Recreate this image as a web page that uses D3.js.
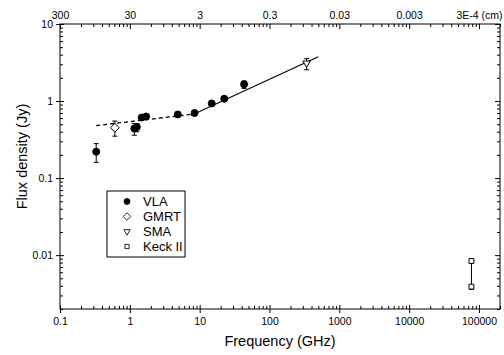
<!DOCTYPE html>
<html>
<head>
<meta charset="utf-8">
<script src="https://cdn.jsdelivr.net/npm/d3@7"></script>
<style>
  body { margin: 0; background: #fff; }
  text { font-family: "Liberation Sans", Arial, sans-serif; fill: #000; }
</style>
</head>
<body>
<svg id="chart" width="504" height="355"></svg>
<script>
// ticks
var freqTicks = [0.1, 1, 10, 100, 1000, 10000, 100000];
var freqLabels = ["0.1", "1", "10", "100", "1000", "10000", "100000"];
var waveLabels = ["300", "30", "3", "0.3", "0.03", "0.003", "3E-4 (cm)"];
var fluxTicks = [10, 1, 0.1, 0.01];
var fluxLabels = ["10", "1", "0.1", "0.01"];

// VLA (filled circles)
var vlaFreq = [0.33, 1.16, 1.26, 1.48, 1.71, 4.86, 8.46, 14.9, 22.5, 43.3];
var vlaFlux = [0.22, 0.44, 0.46, 0.61, 0.63, 0.67, 0.70, 0.93, 1.07, 1.65];
var vlaLo   = [0.16, 0.36, 0.40, 0.61, 0.63, 0.67, 0.70, 0.93, 1.07, 1.46];
var vlaHi   = [0.28, 0.51, 0.51, 0.61, 0.63, 0.67, 0.70, 0.93, 1.07, 1.82];
// GMRT (diamond)
var gmrtFreq = [0.61], gmrtFlux = [0.45], gmrtLo = [0.35], gmrtHi = [0.55];
// SMA (down triangle)
var smaFreq = [340], smaFlux = [3.1], smaLo = [2.55], smaHi = [3.55];
// Keck II (squares)
var keckFreq = [78000, 78000], keckFlux = [0.0084, 0.0039], keckLo = [0.0084, 0.0036], keckHi = [0.0090, 0.0039];

// fitted power laws
var dashFreq = [0.33, 8.0], dashFlux = [0.48, 0.675];
var solidFreq = [7.5, 500], solidFlux = [0.65, 3.75];

var svg = d3.select("#chart"),
    margin = {top: 24, right: 4, bottom: 46, left: 60},
    width = 504 - margin.left - margin.right,
    height = 355 - margin.top - margin.bottom,
    g = svg.append("g").attr("transform", "translate(" + margin.left + "," + margin.top + ")");

var x = d3.scaleLog().domain([0.1, 2e5]).range([0, width]),
    y = d3.scaleLog().domain([0.002, 10]).range([height, 0]);

function minors(dom) {
  var out = [];
  for (var e = -4; e <= 6; e++) for (var k = 2; k <= 9; k++) {
    var v = k * Math.pow(10, e);
    if (v >= dom[0] * 0.999 && v <= dom[1] * 1.001) out.push(v);
  }
  return out;
}
var xMinor = minors(x.domain()), yMinor = minors(y.domain());

// axes: bottom
g.append("g").attr("transform", "translate(0," + height + ")")
  .call(d3.axisBottom(x).tickValues(freqTicks).tickFormat(function(d, i) { return freqLabels[i]; }).tickSizeInner(4).tickSizeOuter(0))
  .call(function(a) { a.select(".domain").remove(); a.selectAll("text").attr("font-size", 10.5).attr("dy", "0.71em").attr("y", 9); });
g.append("g").attr("transform", "translate(0," + height + ")")
  .call(d3.axisTop(x).tickValues(freqTicks).tickFormat("").tickSizeInner(4).tickSizeOuter(0))
  .call(function(a) { a.select(".domain").remove(); });
g.append("g").attr("transform", "translate(0," + height + ")")
  .call(d3.axisTop(x).tickValues(xMinor).tickFormat("").tickSizeInner(3).tickSizeOuter(0))
  .call(function(a) { a.select(".domain").remove(); });

// top (wavelength labels)
g.append("g")
  .call(d3.axisBottom(x).tickValues(freqTicks).tickFormat("").tickSizeInner(5).tickSizeOuter(0))
  .call(function(a) { a.select(".domain").remove(); });
g.append("g")
  .call(d3.axisBottom(x).tickValues(xMinor).tickFormat("").tickSizeInner(3).tickSizeOuter(0))
  .call(function(a) { a.select(".domain").remove(); });
g.append("g")
  .call(d3.axisTop(x).tickValues(freqTicks).tickFormat(function(d, i) { return waveLabels[i]; }).tickSize(0))
  .call(function(a) { a.select(".domain").remove(); a.selectAll("text").attr("font-size", 10.5).attr("y", -5); });

// left
g.append("g")
  .call(d3.axisLeft(y).tickValues(fluxTicks).tickFormat(function(d, i) { return fluxLabels[i]; }).tickSizeInner(4).tickSizeOuter(0))
  .call(function(a) { a.select(".domain").remove(); a.selectAll("text").attr("font-size", 10.5).attr("x", -7); });
g.append("g")
  .call(d3.axisRight(y).tickValues(fluxTicks).tickFormat("").tickSizeInner(4).tickSizeOuter(0))
  .call(function(a) { a.select(".domain").remove(); });
g.append("g")
  .call(d3.axisRight(y).tickValues(yMinor).tickFormat("").tickSizeInner(3).tickSizeOuter(0))
  .call(function(a) { a.select(".domain").remove(); });

// right
g.append("g").attr("transform", "translate(" + width + ",0)")
  .call(d3.axisLeft(y).tickValues(fluxTicks).tickFormat("").tickSizeInner(5).tickSizeOuter(0))
  .call(function(a) { a.select(".domain").remove(); });
g.append("g").attr("transform", "translate(" + width + ",0)")
  .call(d3.axisLeft(y).tickValues(yMinor).tickFormat("").tickSizeInner(3).tickSizeOuter(0))
  .call(function(a) { a.select(".domain").remove(); });

g.selectAll(".tick line").attr("stroke", "#000");

// frame
g.append("rect").attr("width", width).attr("height", height)
  .attr("fill", "none").attr("stroke", "#000").attr("stroke-width", 1);

// axis titles
g.append("text").attr("x", width / 2).attr("y", height + 37)
  .attr("text-anchor", "middle").attr("font-size", 14.5).text("Frequency (GHz)");
g.append("text").attr("transform", "translate(-33," + (height / 2 - 10) + ") rotate(-90)")
  .attr("text-anchor", "middle").attr("font-size", 14.5).text("Flux density (Jy)");

// fit lines
var line = d3.line().x(function(d) { return x(d[0]); }).y(function(d) { return y(d[1]); });
g.append("path").datum(d3.zip(dashFreq, dashFlux)).attr("d", line)
  .attr("fill", "none").attr("stroke", "#000").attr("stroke-width", 1.3).attr("stroke-dasharray", "4,3");
g.append("path").datum(d3.zip(solidFreq, solidFlux)).attr("d", line)
  .attr("fill", "none").attr("stroke", "#000").attr("stroke-width", 1.1);

// keck connector
g.append("line").attr("x1", x(keckFreq[0])).attr("x2", x(keckFreq[1]))
  .attr("y1", y(keckFlux[0])).attr("y2", y(keckFlux[1])).attr("stroke", "#000");

// error bars
function errBars(fr, lo, hi) {
  var eg = g.append("g").attr("stroke", "#000").attr("stroke-width", 1);
  fr.forEach(function(f, i) {
    if (lo[i] === hi[i]) return;
    var cx = x(f);
    eg.append("line").attr("x1", cx).attr("x2", cx).attr("y1", y(lo[i])).attr("y2", y(hi[i]));
    eg.append("line").attr("x1", cx - 2.5).attr("x2", cx + 2.5).attr("y1", y(lo[i])).attr("y2", y(lo[i]));
    eg.append("line").attr("x1", cx - 2.5).attr("x2", cx + 2.5).attr("y1", y(hi[i])).attr("y2", y(hi[i]));
  });
}
errBars(vlaFreq, vlaLo, vlaHi);
errBars(gmrtFreq, gmrtLo, gmrtHi);
errBars(smaFreq, smaLo, smaHi);
errBars(keckFreq, keckLo, keckHi);

// markers
var sym = {
  vla: d3.symbol().type(d3.symbolCircle).size(38),
  gmrt: d3.symbol().type(d3.symbolDiamond2).size(50),
  sma: d3.symbol().type(d3.symbolTriangle2).size(40),
  keck: d3.symbol().type(d3.symbolSquare2).size(30)
};
function marks(fr, fl, s, filled, rot) {
  g.append("g").selectAll("path").data(d3.zip(fr, fl)).enter().append("path")
    .attr("d", s)
    .attr("transform", function(d) { return "translate(" + x(d[0]) + "," + y(d[1]) + ")" + (rot ? " rotate(" + rot + ")" : ""); })
    .attr("fill", filled ? "#000" : "#fff").attr("stroke", "#000").attr("stroke-width", 1);
}
marks(vlaFreq, vlaFlux, sym.vla, true);
marks(gmrtFreq, gmrtFlux, sym.gmrt, false);
marks(smaFreq, smaFlux, sym.sma, false, 180);
marks(keckFreq, keckFlux, sym.keck, false);

// legend
var legNames = ["VLA", "GMRT", "SMA", "Keck II"];
var legSyms = [[sym.vla, true, 0], [sym.gmrt, false, 0], [sym.sma, false, 180], [sym.keck, false, 0]];
var leg = g.append("g").attr("transform", "translate(" + (107 - margin.left) + "," + (191 - margin.top) + ")");
leg.append("rect").attr("width", 78).attr("height", 66).attr("fill", "#fff").attr("stroke", "#000");
var row = leg.selectAll(".row").data(legNames).enter().append("g")
  .attr("transform", function(d, i) { return "translate(0," + (10.5 + i * 15) + ")"; });
row.append("path")
  .attr("d", function(d, i) { return legSyms[i][0](); })
  .attr("transform", function(d, i) { return "translate(20,0) scale(0.85)" + (legSyms[i][2] ? " rotate(180)" : ""); })
  .attr("fill", function(d, i) { return legSyms[i][1] ? "#000" : "#fff"; })
  .attr("stroke", "#000");
row.append("text").attr("x", 36).attr("dy", "0.35em").attr("font-size", 13).text(function(d) { return d; });
</script>
</body>
</html>
